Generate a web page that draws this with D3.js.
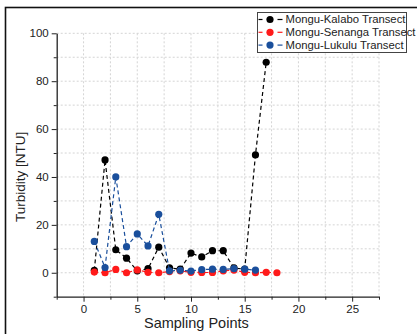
<!DOCTYPE html>
<html>
<head>
<meta charset="utf-8">
<script src="https://cdn.jsdelivr.net/npm/d3@7"></script>
<style>
  body { margin: 0; background: #fff; }
  text { font-family: Arial, "Liberation Sans", sans-serif; }
</style>
</head>
<body>
<svg id="chart" width="417" height="334"></svg>
<script>
// values
const kalaboX = [1, 2, 3, 4, 5, 6, 7, 8, 9, 10, 11, 12, 13, 14, 15, 16, 17];
const kalaboY = [1, 47.1, 9.6, 6.1, 0.8, 1.7, 10.7, 2, 1.5, 8.2, 6.6, 9.2, 9.2, 2, 1.5, 49.2, 87.9];
const senangaX = [1, 2, 3, 4, 5, 6, 7, 8, 9, 10, 11, 12, 13, 14, 15, 16, 17, 18];
const senangaY = [0.3, 0, 1.4, 0, 1.2, 0.2, 0, 0.5, 0.8, 0.2, 0.1, 0.1, 0.8, 1.1, 0.2, 0, 0.2, 0];
const lukuluX = [1, 2, 3, 4, 5, 6, 7, 8, 9, 10, 11, 12, 13, 14, 15, 16];
const lukuluY = [13.1, 2.2, 40, 10.9, 16.2, 11.2, 24.4, 0.8, 1, 0.7, 1.3, 1.5, 1.4, 1.7, 1.5, 1.1];

const seriesNames = ["Mongu-Kalabo Transect", "Mongu-Senanga Transect", "Mongu-Lukulu Transect"];
const seriesColors = ["#000000", "#ff1a1a", "#1a4f9c"];
const xTicks = [0, 5, 10, 15, 20, 25];
const yTicks = [0, 20, 40, 60, 80, 100];

const series = [
  { name: seriesNames[0], color: seriesColors[0], pts: kalaboX.map((x, i) => [x, kalaboY[i]]) },
  { name: seriesNames[1], color: seriesColors[1], pts: senangaX.map((x, i) => [x, senangaY[i]]) },
  { name: seriesNames[2], color: seriesColors[2], pts: lukuluX.map((x, i) => [x, lukuluY[i]]) }
];

const svg = d3.select("#chart");
const plotL = 56.7, plotR = 379, plotT = 33.3, plotB = 296.7;

// outer frame
svg.append("rect")
  .attr("x", 5.5).attr("y", 7.5)
  .attr("width", 420).attr("height", 340)
  .attr("fill", "none").attr("stroke", "#111").attr("stroke-width", 1.6);

const x = d3.scaleLinear().domain([-2.5, 27.5]).range([plotL, plotR]);
const y = d3.scaleLinear().domain([-10, 100]).range([plotB, plotT]);

// dotted grid
const grid = svg.append("g")
  .attr("stroke", "#d4d4d4")
  .attr("stroke-width", 1)
  .attr("stroke-dasharray", "2,2");
grid.selectAll("line.v")
  .data(d3.range(0, 27.6, 2.5))
  .join("line")
  .attr("class", "v")
  .attr("x1", d => x(d)).attr("x2", d => x(d))
  .attr("y1", plotT).attr("y2", plotB);
grid.selectAll("line.h")
  .data(d3.range(0, 101, 10))
  .join("line")
  .attr("class", "h")
  .attr("x1", plotL).attr("x2", plotR)
  .attr("y1", d => y(d)).attr("y2", d => y(d));

// axes
const xAxis = svg.append("g")
  .attr("transform", "translate(0," + plotB + ")")
  .call(d3.axisBottom(x).tickValues(xTicks).tickSize(5).tickSizeOuter(0).tickPadding(3));
svg.append("g")
  .attr("transform", "translate(0," + plotB + ")")
  .call(d3.axisBottom(x).tickValues(d3.range(-2.5, 27.6, 5)).tickSize(3).tickSizeOuter(0).tickFormat(""))
  .select(".domain").remove();

const yAxis = svg.append("g")
  .attr("transform", "translate(" + plotL + ",0)")
  .call(d3.axisLeft(y).tickValues(yTicks).tickSize(5).tickSizeOuter(0).tickPadding(3));
svg.append("g")
  .attr("transform", "translate(" + plotL + ",0)")
  .call(d3.axisLeft(y).tickValues(d3.range(-10, 91, 20)).tickSize(3).tickSizeOuter(0).tickFormat(""))
  .select(".domain").remove();

svg.selectAll(".domain").attr("stroke", "#222").attr("stroke-width", 1.3);
svg.selectAll(".tick line").attr("stroke", "#222");
xAxis.selectAll("text").attr("font-size", 11.5).attr("fill", "#222")
  .attr("font-family", "Arial, 'Liberation Sans', sans-serif");
yAxis.selectAll("text").attr("font-size", 11.5).attr("fill", "#222")
  .attr("font-family", "Arial, 'Liberation Sans', sans-serif");

// axis titles
svg.append("text")
  .attr("x", x(10.5)).attr("y", 328)
  .attr("text-anchor", "middle")
  .attr("font-size", 14.5).attr("fill", "#222")
  .text("Sampling Points");
svg.append("text")
  .attr("transform", "translate(25," + y(40) + ") rotate(-90)")
  .attr("text-anchor", "middle")
  .attr("font-size", 13.5).attr("fill", "#222")
  .text("Turbidity [NTU]");

// series
const line = d3.line().x(d => x(d[0])).y(d => y(d[1]));
series.forEach(s => {
  svg.append("path")
    .datum(s.pts)
    .attr("d", line)
    .attr("fill", "none")
    .attr("stroke", s.color)
    .attr("stroke-width", 1.2)
    .attr("stroke-dasharray", "4,3");
  svg.append("g").selectAll("circle")
    .data(s.pts)
    .join("circle")
    .attr("cx", d => x(d[0]))
    .attr("cy", d => y(d[1]))
    .attr("r", 3.6)
    .attr("fill", s.color);
});

// legend
const lg = svg.append("g").attr("transform", "translate(257.5,12.5)");
lg.append("rect")
  .attr("width", 149).attr("height", 40)
  .attr("fill", "#fff").attr("stroke", "#444").attr("stroke-width", 1);
series.forEach((s, i) => {
  const row = lg.append("g").attr("transform", "translate(0," + (7 + i * 12.8) + ")");
  [[1, 5], [20, 25]].forEach(seg => {
    row.append("line")
      .attr("x1", seg[0]).attr("x2", seg[1])
      .attr("stroke", s.color).attr("stroke-width", 1.2);
  });
  row.append("circle").attr("cx", 12.5).attr("r", 3.6).attr("fill", s.color);
  row.append("text")
    .attr("x", 28).attr("dy", "0.35em")
    .attr("font-size", 11.3).attr("fill", "#222")
    .text(s.name);
});
</script>
</body>
</html>
